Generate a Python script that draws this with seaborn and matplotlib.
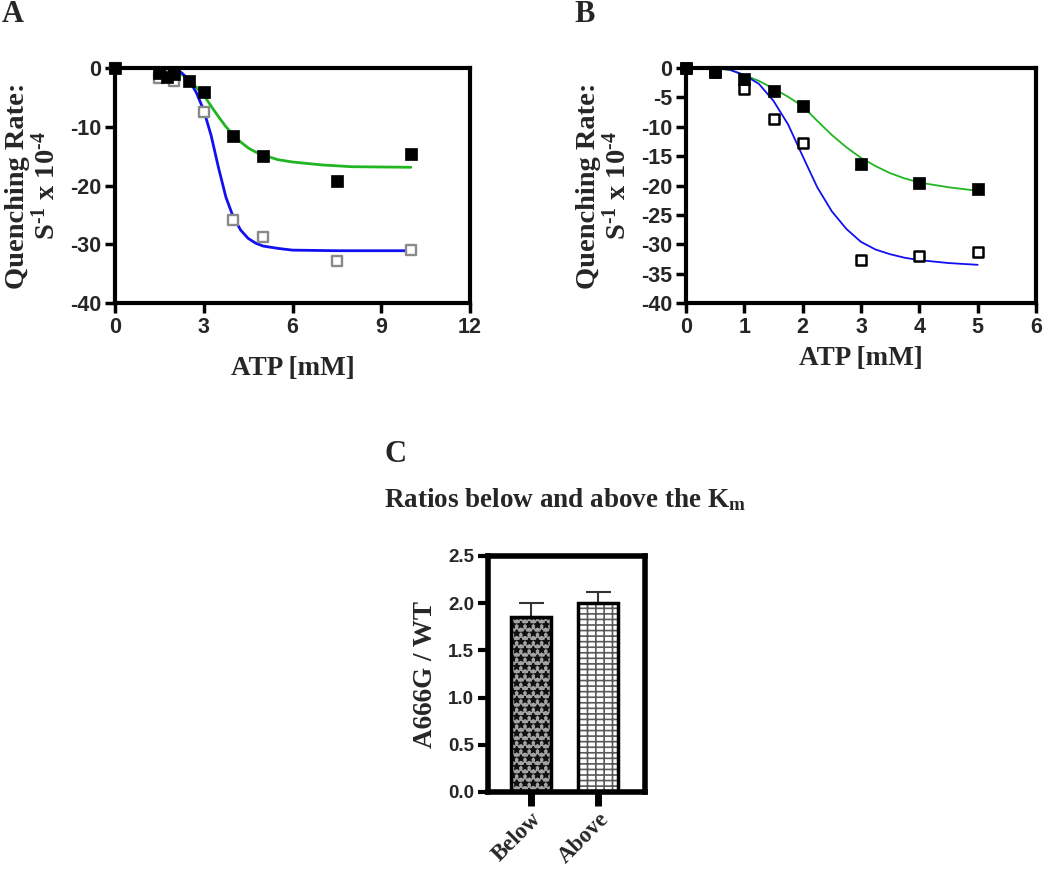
import numpy as np
import pandas as pd
import seaborn as sns
import matplotlib.pyplot as plt
from matplotlib.patches import Rectangle

# ---- Panel A data (ATP 0-10 mM) ----
a_filled_x = [0, 1.5, 1.75, 2, 2.5, 3, 4, 5, 7.5, 10]
a_filled_y = [0, -0.8, -1.5, -1.0, -2.2, -4.1, -11.5, -14.9, -19.2, -14.6]
a_open_x = [0, 1.5, 2, 3, 4, 5, 7.5, 10]
a_open_y = [0, -1.7, -2.2, -7.5, -25.8, -28.8, -32.9, -30.9]

# fitted curves
a_green_x = [0, 1.5, 2.0, 2.25, 2.5, 2.75, 3.0, 3.25, 3.5, 3.75, 4.0, 4.25, 4.5, 4.75, 5.0,
             5.25, 5.5, 6.0, 7.0, 8.0, 10]
a_green_y = [0, 0, -0.3, -1.0, -2.2, -3.3, -4.6, -6.5, -8.3, -10.0, -11.4, -12.6, -13.6, -14.3, -14.8,
             -15.2, -15.6, -16.0, -16.5, -16.8, -16.9]
a_blue_x = [0, 1.5, 2.0, 2.25, 2.5, 2.75, 3.0, 3.25, 3.5, 3.75, 4.0, 4.25, 4.5, 4.75, 5.0,
            5.5, 6.0, 7.5, 10]
a_blue_y = [0, 0, -0.3, -0.8, -2.0, -4.2, -7.2, -11.5, -17.0, -22.0, -25.4, -27.6, -29.0, -29.8, -30.3,
            -30.7, -31.0, -31.1, -31.1]

# ---- Panel B data (ATP 0-5 mM) ----
b_x = [0, 0.5, 1, 1.5, 2, 3, 4, 5]
b_filled_y = [0, -0.7, -1.9, -3.9, -6.5, -16.4, -19.5, -20.6]
b_open_y = [0, -0.7, -3.6, -8.6, -12.7, -32.7, -32.0, -31.4]

b_green_x = [0, 0.5, 0.75, 1.0, 1.25, 1.5, 1.75, 2.0, 2.25, 2.5, 2.75, 3.0, 3.25, 3.5, 3.75,
             4.0, 4.5, 5.0]
b_green_y = [0, -0.1, -0.3, -1.2, -2.2, -3.5, -4.9, -6.5, -9.0, -11.4, -13.5, -15.3, -16.7, -17.9, -18.8,
             -19.5, -20.3, -20.9]
b_blue_x = [0, 0.5, 0.75, 1.0, 1.25, 1.5, 1.75, 2.0, 2.25, 2.5, 2.75, 3.0, 3.25, 3.5, 3.75,
            4.0, 4.5, 5.0]
b_blue_y = [0, 0, -0.3, -1.2, -2.7, -5.6, -9.6, -15.0, -20.3, -24.4, -27.4, -29.6, -30.9, -31.7, -32.3,
            -32.7, -33.2, -33.5]

# ---- Panel C data ----
c_groups = ["Below", "Above"]
c_ratio = [1.85, 2.00]
c_err = [0.15, 0.12]

sns.set_theme(style="ticks")
plt.rcParams.update({
    "font.family": ["Liberation Sans", "DejaVu Sans"],
    "font.weight": "bold",
    "axes.unicode_minus": False,
    "mathtext.fontset": "custom",
    "mathtext.rm": "Liberation Serif:bold",
    "mathtext.it": "Liberation Serif:italic:bold",
    "mathtext.bf": "Liberation Serif:bold",
    "hatch.linewidth": 1.2,
})
serif = ["Liberation Serif", "DejaVu Serif"]

fig = plt.figure(figsize=(10.5, 8.69), dpi=100)
W, H = 1050, 869


def px_axes(left, top, right, bottom):
    return fig.add_axes([left / W, 1 - bottom / H, (right - left) / W, (bottom - top) / H])


def style_axes(ax, lw=3):
    for s in ax.spines.values():
        s.set_linewidth(lw)
        s.set_color("black")
        s.set_zorder(5)
    ax.tick_params(direction="out", length=7, width=2.5, labelsize=15.5, pad=3, color="black")
    for lab in ax.get_xticklabels() + ax.get_yticklabels():
        lab.set_fontweight("bold")


ylab = "Quenching Rate:\nS$^{\\text{-1}}$ x 10$^{\\text{-4}}$"

# ---------------- Panel A ----------------
axA = px_axes(115, 68, 470, 303)
sns.lineplot(x=a_green_x, y=a_green_y, ax=axA, color="#22b522", lw=2.0, zorder=2)
sns.lineplot(x=a_blue_x, y=a_blue_y, ax=axA, color="#1010f0", lw=2.0, zorder=2)
sns.scatterplot(x=a_open_x, y=a_open_y, ax=axA, marker="s", s=60, color="white",
                edgecolor="#8a8a8a", linewidth=1.7, zorder=3, clip_on=False)
sns.scatterplot(x=a_filled_x, y=a_filled_y, ax=axA, marker="s", s=75, color="black",
                edgecolor="black", linewidth=0.5, zorder=4, clip_on=False)
axA.set_xlim(0, 12)
axA.set_ylim(-40, 0)
axA.set_xticks([0, 3, 6, 9, 12])
axA.set_yticks([0, -10, -20, -30, -40])
style_axes(axA)
axA.set_xlabel("ATP [mM]", fontsize=19.5, fontweight="bold", family=serif)
axA.xaxis.set_label_coords(0.5, -0.225)
axA.set_ylabel(ylab, fontsize=20.5, fontweight="bold", family=serif, linespacing=1.1)
axA.yaxis.set_label_coords(-0.152, 0.5)

# ---------------- Panel B ----------------
axB = px_axes(686, 68, 1036, 303)
sns.lineplot(x=b_green_x, y=b_green_y, ax=axB, color="#22b522", lw=1.3, zorder=2)
sns.lineplot(x=b_blue_x, y=b_blue_y, ax=axB, color="#1010f0", lw=1.3, zorder=2)
sns.scatterplot(x=b_x, y=b_open_y, ax=axB, marker="s", s=60, color="white",
                edgecolor="black", linewidth=1.8, zorder=3, clip_on=False)
sns.scatterplot(x=b_x, y=b_filled_y, ax=axB, marker="s", s=75, color="black",
                edgecolor="black", linewidth=0.5, zorder=4, clip_on=False)
axB.set_xlim(0, 6)
axB.set_ylim(-40, 0)
axB.set_xticks(range(0, 7))
axB.set_yticks(range(0, -41, -5))
style_axes(axB)
axB.set_xlabel("ATP [mM]", fontsize=19.5, fontweight="bold", family=serif)
axB.xaxis.set_label_coords(0.5, -0.185)
axB.set_ylabel(ylab, fontsize=20.5, fontweight="bold", family=serif, linespacing=1.1)
axB.yaxis.set_label_coords(-0.155, 0.5)

# ---------------- Panel C ----------------
axC = px_axes(488, 556, 645, 792)
dfc = pd.DataFrame({"group": c_groups, "ratio": c_ratio})
sns.barplot(data=dfc, x="group", y="ratio", hue="group", palette=["#a3a3a3", "white"],
            legend=False, width=0.6, ax=axC, zorder=2)
hatch_info = [("**", "#111111"), ("++-", "#5a5a5a")]
for p, (h, hc) in zip(axC.patches, hatch_info):
    p.set_hatch(h)
    p.set_edgecolor(hc)
    p.set_linewidth(0)
    axC.add_patch(Rectangle(p.get_xy(), p.get_width(), p.get_height(), fill=False,
                            ec="black", lw=2.5, zorder=3))
axC.errorbar(x=range(len(c_groups)), y=c_ratio, yerr=[[0] * len(c_err), c_err], fmt="none",
             ecolor="#333333", elinewidth=1.5, capsize=9, capthick=1.5, zorder=1)
axC.set_xlim(-0.64, 1.70)
axC.set_ylim(0, 2.5)
axC.set_yticks([0, 0.5, 1.0, 1.5, 2.0, 2.5])
axC.set_yticklabels([f"{v:.1f}" for v in [0, 0.5, 1.0, 1.5, 2.0, 2.5]])
style_axes(axC, lw=4)
axC.tick_params(axis="y", labelsize=13.5, length=7, width=3)
axC.tick_params(axis="x", length=10, width=5, pad=2)
axC.set_xticks(range(len(c_groups)))
axC.set_xticklabels(c_groups, rotation=45, ha="right", rotation_mode="anchor",
                    fontsize=16.5, fontweight="bold", family=serif)
axC.set_xlabel("")
axC.set_ylabel("A666G / WT", fontsize=19.5, fontweight="bold", family=serif)
axC.yaxis.set_label_coords(-0.32, 0.5)

# panel letters and title
fig.text(2 / W, 1 - 15 / H, "A", fontsize=22, fontweight="bold", family=serif, va="center")
fig.text(574 / W, 1 - 15 / H, "B", fontsize=22, fontweight="bold", family=serif, va="center")
fig.text(385 / W, 1 - 455 / H, "C", fontsize=22, fontweight="bold", family=serif, va="center")
fig.text(565 / W, 1 - 500 / H, "Ratios below and above the K$_{\\mathrm{m}}$", fontsize=19.5,
         fontweight="bold", family=serif, ha="center", va="center")

fig.savefig("out.png", dpi=100, facecolor="white")
